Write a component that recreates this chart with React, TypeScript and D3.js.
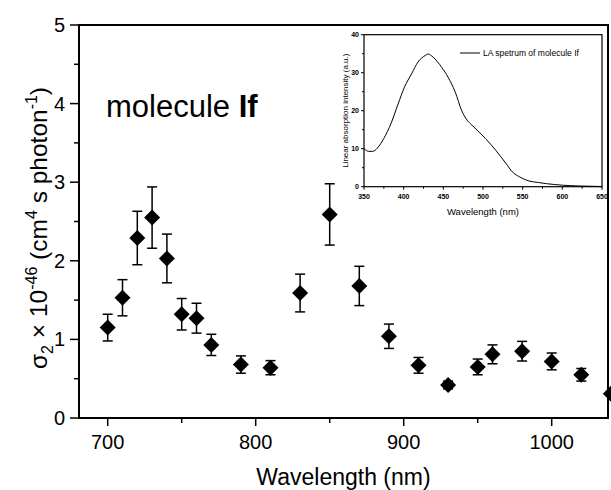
import React from "react";
import * as d3 from "d3";

const wavelengths = [700, 710, 720, 730, 740, 750, 760, 770, 790, 810, 830, 850, 870, 890, 910, 930, 950, 960, 980, 1000, 1020, 1040];
const sigmaValues = [1.15, 1.53, 2.29, 2.55, 2.03, 1.32, 1.27, 0.93, 0.68, 0.64, 1.59, 2.59, 1.68, 1.04, 0.67, 0.42, 0.65, 0.81, 0.85, 0.72, 0.55, 0.31];
const sigmaErrors = [0.17, 0.23, 0.34, 0.39, 0.31, 0.2, 0.19, 0.135, 0.11, 0.09, 0.24, 0.39, 0.25, 0.155, 0.1, 0.05, 0.1, 0.12, 0.125, 0.107, 0.08, 0.03];

const xMajorTicks = [700, 800, 900, 1000];
const xMinorTicks = [750, 850, 950];
const yMajorTicks = [0, 1, 2, 3, 4, 5];
const yMinorTicks = [0.5, 1.5, 2.5, 3.5, 4.5];

const laWavelengths = [350, 356, 361, 367, 375, 384, 393, 401, 410, 418, 427, 431, 437, 448, 456, 465, 473, 480, 486, 495, 503, 516, 529, 537, 546, 558, 570, 580, 600, 620, 650];
const laIntensity = [10.0, 9.3, 9.3, 10.2, 12.7, 16.6, 21.8, 26.2, 29.7, 32.8, 34.5, 34.9, 34.1, 31.4, 28.8, 24.9, 20.1, 17.5, 16.2, 14.4, 12.7, 9.6, 6.1, 3.9, 2.6, 1.5, 1.1, 0.8, 0.4, 0.2, 0.05];
const insetXTicks = [350, 400, 450, 500, 550, 600, 650];
const insetXMinor = [375, 425, 475, 525, 575, 625];
const insetYTicks = [0, 10, 20, 30, 40];
const insetYMinor = [5, 15, 25, 35];

const FONT = "'Liberation Sans', Arial, sans-serif";

export default function App() {
  const W = 611, H = 490;
  const x = d3.scaleLinear().domain([700, 1000]).range([107.7, 551.7]);
  const y = d3.scaleLinear().domain([0, 5]).range([418, 25]);
  const left = 79, right = 608, top = 25, bottom = 418;

  const ix = d3.scaleLinear().domain([350, 650]).range([364, 602]);
  const iy = d3.scaleLinear().domain([0, 40]).range([186.7, 34.7]);
  const line = d3.line<number>()
    .x((_, i) => ix(laWavelengths[i]))
    .y((d) => iy(d))
    .curve(d3.curveMonotoneX);

  const ds = 8;
  const diamond = (cx: number, cy: number) =>
    `M${cx},${cy - ds}L${cx + ds},${cy}L${cx},${cy + ds}L${cx - ds},${cy}Z`;

  return (
    <svg width={W} height={H} style={{ position: "absolute", left: 0, top: 0, background: "#fff" }} fontFamily={FONT}>
      <rect x={0} y={0} width={W} height={H} fill="#fff" />
      {/* main frame */}
      <rect x={left} y={top} width={right - left} height={bottom - top} fill="none" stroke="#000" strokeWidth={2} />
      {/* x ticks */}
      {xMajorTicks.map((t) => (
        <g key={"xt" + t}>
          <line x1={x(t)} x2={x(t)} y1={bottom} y2={bottom + 8} stroke="#000" strokeWidth={1.5} />
          <text x={x(t)} y={449} fontSize={20} textAnchor="middle">{t}</text>
        </g>
      ))}
      {xMinorTicks.map((t) => (
        <line key={"xm" + t} x1={x(t)} x2={x(t)} y1={bottom} y2={bottom + 5} stroke="#000" strokeWidth={1.5} />
      ))}
      {yMajorTicks.map((t) => (
        <g key={"yt" + t}>
          <line x1={left - 9} x2={left} y1={y(t)} y2={y(t)} stroke="#000" strokeWidth={1.5} />
          <text x={65} y={y(t) + 7} fontSize={20} textAnchor="end">{t}</text>
        </g>
      ))}
      {yMinorTicks.map((t) => (
        <line key={"ym" + t} x1={left - 5} x2={left} y1={y(t)} y2={y(t)} stroke="#000" strokeWidth={1.5} />
      ))}
      <text x={(left + right) / 2} y={485} fontSize={23} textAnchor="middle">Wavelength (nm)</text>
      <text transform="translate(47,228) rotate(-90)" fontSize={24.5} textAnchor="middle">
        σ<tspan fontSize={16} dy={6}>2</tspan>
        <tspan dy={-6}> × 10</tspan>
        <tspan fontSize={16} dy={-10}>-46</tspan>
        <tspan dy={10}> (cm</tspan>
        <tspan fontSize={16} dy={-10}>4</tspan>
        <tspan dy={10}> s photon</tspan>
        <tspan fontSize={16} dy={-10}>-1</tspan>
        <tspan dy={10}>)</tspan>
      </text>
      <text x={106} y={117} fontSize={31}>molecule <tspan fontWeight="bold">If</tspan></text>

      {/* data */}
      {wavelengths.map((w, i) => {
        const cx = x(w);
        const y1 = y(sigmaValues[i] + sigmaErrors[i]);
        const y2 = y(sigmaValues[i] - sigmaErrors[i]);
        return (
          <g key={"p" + w}>
            <line x1={cx} x2={cx} y1={y1} y2={y2} stroke="#000" strokeWidth={1.5} />
            <line x1={cx - 5} x2={cx + 5} y1={y1} y2={y1} stroke="#000" strokeWidth={1.5} />
            <line x1={cx - 5} x2={cx + 5} y1={y2} y2={y2} stroke="#000" strokeWidth={1.5} />
            <path d={diamond(cx, y(sigmaValues[i]))} fill="#000" />
          </g>
        );
      })}

      {/* inset */}
      <rect x={ix(350)} y={iy(40)} width={ix(650) - ix(350)} height={iy(0) - iy(40)} fill="#fff" stroke="#000" strokeWidth={1.2} />
      {insetXTicks.map((t) => (
        <g key={"ixt" + t}>
          <line x1={ix(t)} x2={ix(t)} y1={iy(0)} y2={iy(0) + 3} stroke="#000" strokeWidth={1} />
          <text x={ix(t)} y={iy(0) + 12} fontSize={7} fontWeight="bold" textAnchor="middle">{t}</text>
        </g>
      ))}
      {insetXMinor.map((t) => (
        <line key={"ixm" + t} x1={ix(t)} x2={ix(t)} y1={iy(0)} y2={iy(0) + 2} stroke="#000" strokeWidth={1} />
      ))}
      {insetYTicks.map((t) => (
        <g key={"iyt" + t}>
          <line x1={ix(350) - 3} x2={ix(350)} y1={iy(t)} y2={iy(t)} stroke="#000" strokeWidth={1} />
          <text x={ix(350) - 5} y={iy(t) + 2.5} fontSize={7} fontWeight="bold" textAnchor="end">{t}</text>
        </g>
      ))}
      {insetYMinor.map((t) => (
        <line key={"iym" + t} x1={ix(350) - 2} x2={ix(350)} y1={iy(t)} y2={iy(t)} stroke="#000" strokeWidth={1} />
      ))}
      <path d={line(laIntensity) || ""} fill="none" stroke="#000" strokeWidth={1} />
      <line x1={460} x2={480} y1={53} y2={53} stroke="#000" strokeWidth={1} />
      <text x={483} y={56} fontSize={8.5}>LA spetrum of molecule If</text>
      <text x={(ix(350) + ix(650)) / 2} y={215} fontSize={9.5} textAnchor="middle">Wavelength (nm)</text>
      <text transform={`translate(348,${(iy(0) + iy(40)) / 2}) rotate(-90)`} fontSize={8} textAnchor="middle">Linear absorption intensity (a.u.)</text>
    </svg>
  );
}
